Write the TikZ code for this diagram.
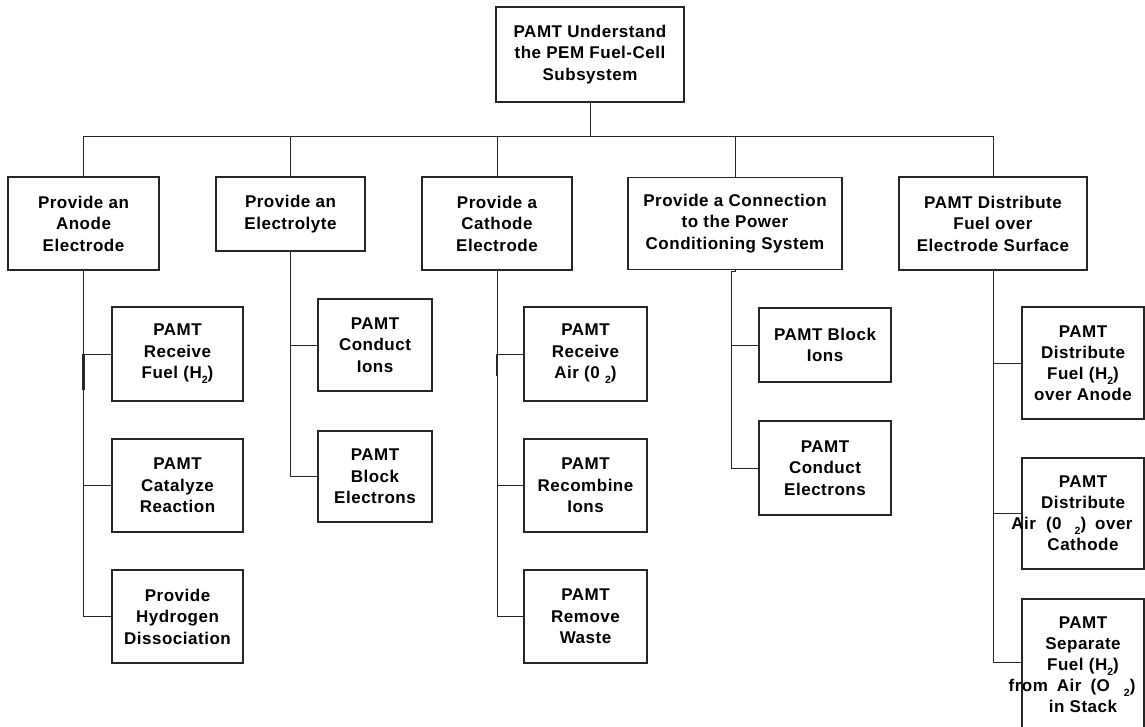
\documentclass[tikz,border=0pt]{standalone}
\usepackage{fontspec}
\setmainfont{Liberation Sans}[LetterSpace=3]
% small lowered "2" used for the chemical formulas
\newcommand\subtwo{\raisebox{-0.3em}{\fontsize{10.5}{10.5}\selectfont 2}}
\begin{document}
\begin{tikzpicture}[x=1pt,y=-1pt,
  box/.style={draw=black!85, line width=1.1pt, fill=white, align=center,
              inner sep=0pt, font=\bfseries\fontsize{17}{21.5}\selectfont},
  txt/.style={align=center, inner sep=0pt, font=\bfseries\fontsize{17}{21}\selectfont},
  link/.style={draw=black!85, line width=1pt},
  thick link/.style={draw=black!85, line width=2.6pt}]
\useasboundingbox (0,0) rectangle (1145,727);

% ---- top level ----
\node[box, minimum width=188, minimum height=95] (root) at (590,54.5)
  {PAMT Understand\\the PEM Fuel-Cell\\Subsystem};

% ---- second level ----
\node[box, minimum width=151, minimum height=93] (anode) at (83.5,223.5)
  {Provide an\\Anode\\Electrode};
\node[box, minimum width=149, minimum height=74] (elyte) at (290.5,214)
  {Provide an\\Electrolyte};
\node[box, minimum width=150, minimum height=93] (cathode) at (497,223.5)
  {Provide a\\Cathode\\Electrode};
\node[box, minimum width=214, minimum height=92] (power) at (735,223.5)
  {Provide a Connection\\to the Power\\Conditioning System};
\node[box, minimum width=188, minimum height=93] (dist) at (993,223.5)
  {PAMT Distribute\\Fuel over\\Electrode Surface};

% ---- anode branch ----
\node[box, minimum width=131, minimum height=94] (a1) at (177.5,354)
  {PAMT\\Receive\\Fuel (H\subtwo)};
\node[box, minimum width=131, minimum height=93] (a2) at (177.5,485.5)
  {PAMT\\Catalyze\\Reaction};
\node[box, minimum width=131, minimum height=93] (a3) at (177.5,616.5)
  {Provide\\Hydrogen\\Dissociation};

% ---- electrolyte branch ----
\node[box, minimum width=114, minimum height=92] (e1) at (375,345)
  {PAMT\\Conduct\\Ions};
\node[box, minimum width=114, minimum height=91] (e2) at (375,476.5)
  {PAMT\\Block\\Electrons};

% ---- cathode branch ----
\node[box, minimum width=123, minimum height=94] (c1) at (585.5,354)
  {PAMT\\Receive\\Air (0 \subtwo)};
\node[box, minimum width=123, minimum height=93] (c2) at (585.5,485.5)
  {PAMT\\Recombine\\Ions};
\node[box, minimum width=123, minimum height=93] (c3) at (585.5,616.5)
  {PAMT\\Remove\\Waste};

% ---- power conditioning branch ----
\node[box, minimum width=132, minimum height=74] (p1) at (825,345)
  {PAMT Block\\Ions};
\node[box, minimum width=132, minimum height=94] (p2) at (825,468)
  {PAMT\\Conduct\\Electrons};

% ---- distribution branch (long lines run past the frame) ----
\node[box, minimum width=122, minimum height=112] (d1) at (1083,363) {};
\node[txt] (d1t) at (d1.center) {PAMT\\Distribute\\Fuel (H\subtwo)\\over Anode};
\node[box, minimum width=122, minimum height=111] (d2) at (1083,513.5) {};
\node[txt] (d2t) at (d2.center)
  {PAMT\\Distribute\\Air\hspace{10pt}(0\hspace{13pt}\subtwo)\hspace{9pt}over\kern22pt\\Cathode};
\node[box, minimum width=122, minimum height=131] (d3) at (1083,664.5) {};
\node[txt] (d3t) at (d3.center)
  {PAMT\\Separate\\Fuel (H\subtwo)\\from\hspace{9pt}Air\hspace{9pt}(O\hspace{14pt}\subtwo)\kern22pt\\in Stack};

% ---- bus under the top box ----
\coordinate (bus) at (590,137);
\draw[link] (root.south) -- (bus);
\draw[link] (anode.north) |- (bus -| dist.north) -- (dist.north);
\draw[link] (elyte.north) -- (elyte.north |- bus);
\draw[link] (cathode.north) -- (cathode.north |- bus);
\draw[link] (power.north) -- (power.north |- bus);

% ---- anode trunk ----
\draw[link] (anode.south) |- (a3.west);
\draw[link] (a1.west) -- (a1.west -| anode.south);
\draw[link] (a2.west) -- (a2.west -| anode.south);
\draw[thick link] (a1.west -| anode.south) -- ++(0,36);

% ---- electrolyte trunk ----
\draw[link] (elyte.south) |- (e2.west);
\draw[link] (e1.west) -- (e1.west -| elyte.south);

% ---- cathode trunk ----
\draw[link] (cathode.south) |- (c3.west);
\draw[link] (c1.west) -- (c1.west -| cathode.south);
\draw[link] (c2.west) -- (c2.west -| cathode.south);
\draw[thick link] (c1.west -| cathode.south) -- ++(0,22);

% ---- power trunk, with its small jog under the box ----
\coordinate (pj) at (731,271);
\draw[link] (power.south) |- (pj) |- (p2.west);
\draw[link] (p1.west) -- (p1.west -| pj);

% ---- distribution trunk ----
\draw[link] (dist.south) -- (dist.south |- 0,662) -- (d3.west |- 0,662);
\draw[link] (d1.west) -- (d1.west -| dist.south);
\draw[link] (d2.west) -- (d2.west -| dist.south);
\end{tikzpicture}
\end{document}
